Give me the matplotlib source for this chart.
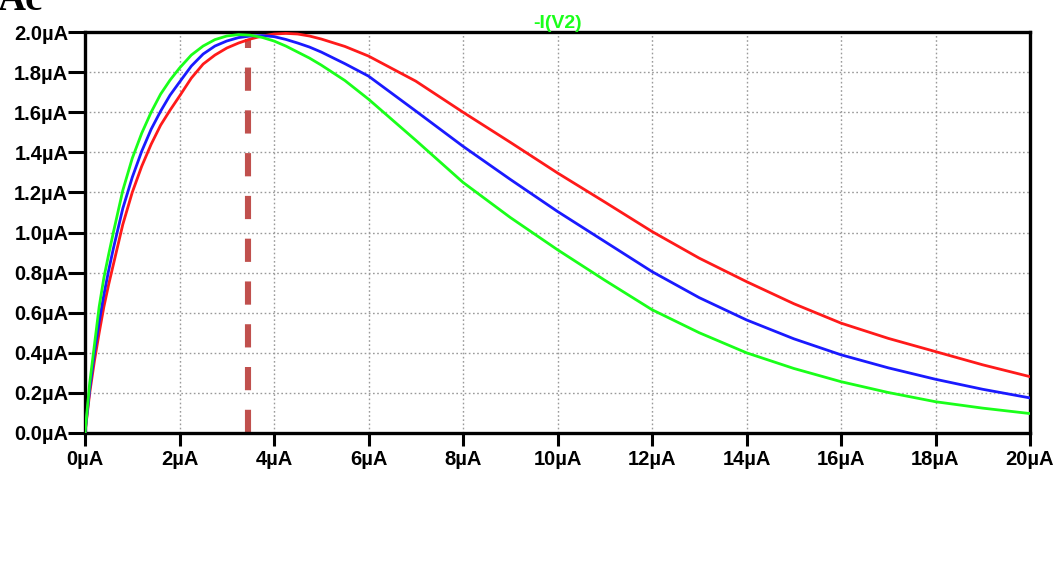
import matplotlib
matplotlib.use("Agg")
import matplotlib.pyplot as plt
from matplotlib.ticker import FixedLocator

# Sweep current (µA) and the three -I(V2) traces (µA)
sweep_ua = [0, 0.1, 0.2, 0.3, 0.4, 0.5, 0.6, 0.8, 1.0, 1.2, 1.4, 1.6, 1.8, 2.0,
            2.25, 2.5, 2.75, 3.0, 3.25, 3.5, 3.75, 4.0, 4.25, 4.5, 4.75, 5.0,
            5.5, 6, 7, 8, 9, 10, 11, 12, 13, 14, 15, 16, 17, 18, 19, 20]

trace_green = [0, 0.25, 0.44, 0.63, 0.775, 0.89, 1.00, 1.21, 1.37, 1.495, 1.60,
               1.69, 1.76, 1.82, 1.885, 1.93, 1.962, 1.98, 1.987, 1.984, 1.973,
               1.955, 1.93, 1.90, 1.87, 1.835, 1.758, 1.665, 1.46, 1.25, 1.075,
               0.914, 0.762, 0.615, 0.50, 0.40, 0.322, 0.256, 0.202, 0.156,
               0.124, 0.097]

trace_blue = [0, 0.22, 0.40, 0.555, 0.69, 0.81, 0.92, 1.12, 1.275, 1.405, 1.515,
              1.605, 1.685, 1.75, 1.83, 1.89, 1.93, 1.955, 1.972, 1.98, 1.982,
              1.977, 1.963, 1.945, 1.925, 1.90, 1.842, 1.78, 1.606, 1.43, 1.265,
              1.105, 0.955, 0.805, 0.675, 0.564, 0.47, 0.39, 0.325, 0.268,
              0.218, 0.175]

trace_red = [0, 0.20, 0.36, 0.50, 0.63, 0.74, 0.84, 1.04, 1.20, 1.33, 1.44,
             1.535, 1.61, 1.68, 1.77, 1.84, 1.885, 1.92, 1.945, 1.965, 1.98,
             1.99, 1.993, 1.99, 1.98, 1.965, 1.928, 1.88, 1.755, 1.60, 1.45,
             1.297, 1.152, 1.005, 0.872, 0.755, 0.645, 0.548, 0.472, 0.406,
             0.34, 0.281]

# Marker for the operating point
marker_x_ua = 3.45
marker_top_ua = 1.967

x_ticks = [0, 2, 4, 6, 8, 10, 12, 14, 16, 18, 20]
x_tick_labels = ["0µA", "2µA", "4µA", "6µA", "8µA", "10µA", "12µA", "14µA",
                 "16µA", "18µA", "20µA"]
y_ticks = [0.0, 0.2, 0.4, 0.6, 0.8, 1.0, 1.2, 1.4, 1.6, 1.8, 2.0]
y_tick_labels = ["0.0µA", "0.2µA", "0.4µA", "0.6µA", "0.8µA", "1.0µA",
                 "1.2µA", "1.4µA", "1.6µA", "1.8µA", "2.0µA"]

plt.rcParams["font.family"] = ["Liberation Sans", "DejaVu Sans"]

W, H = 1059, 562
fig = plt.figure(figsize=(W / 100, H / 100), dpi=100)
ax = fig.add_axes([85 / W, 1 - 433 / H, (1030 - 85) / W, (433 - 32) / H])

ax.set_xlim(0, 20)
ax.set_ylim(0, 2.0)

ax.xaxis.set_major_locator(FixedLocator(x_ticks))
ax.yaxis.set_major_locator(FixedLocator(y_ticks))
ax.set_xticklabels(x_tick_labels, fontsize=14.5, fontweight="bold")
ax.set_yticklabels(y_tick_labels, fontsize=14.5, fontweight="bold")

ax.grid(True, color="#9a9a9a", linestyle=(0, (1.2, 1.8)), linewidth=1.0)
ax.set_axisbelow(True)

for s in ax.spines.values():
    s.set_linewidth(2.4)
    s.set_color("black")

ax.tick_params(axis="y", direction="out", length=12, width=2.2, pad=0,
               colors="black")
ax.tick_params(axis="x", direction="out", length=9, width=2.2, pad=3,
               colors="black")

ax.plot(sweep_ua, trace_red, color="#ff1a1a", linewidth=2.0, zorder=3)
ax.plot(sweep_ua, trace_blue, color="#1a1aff", linewidth=2.0, zorder=3)
ax.plot(sweep_ua, trace_green, color="#1aff1a", linewidth=2.0, zorder=3)

ax.plot([marker_x_ua, marker_x_ua], [0, marker_top_ua], color="#c0504d",
        linewidth=4.4, linestyle=(0, (3.8, 3.2)), solid_capstyle="butt",
        dash_capstyle="butt", zorder=2, clip_on=False)

ax.set_title("-I(V2)", color="#1aff1a", fontsize=14, fontweight="bold",
             pad=2)

# Heading text partly above the frame
fig.text(-2 / W, 1 - 10 / H, "Ac", fontsize=28, fontweight="bold",
         family="Liberation Serif", va="baseline", ha="left", color="black")

fig.savefig("out.png", dpi=100, facecolor="white")
